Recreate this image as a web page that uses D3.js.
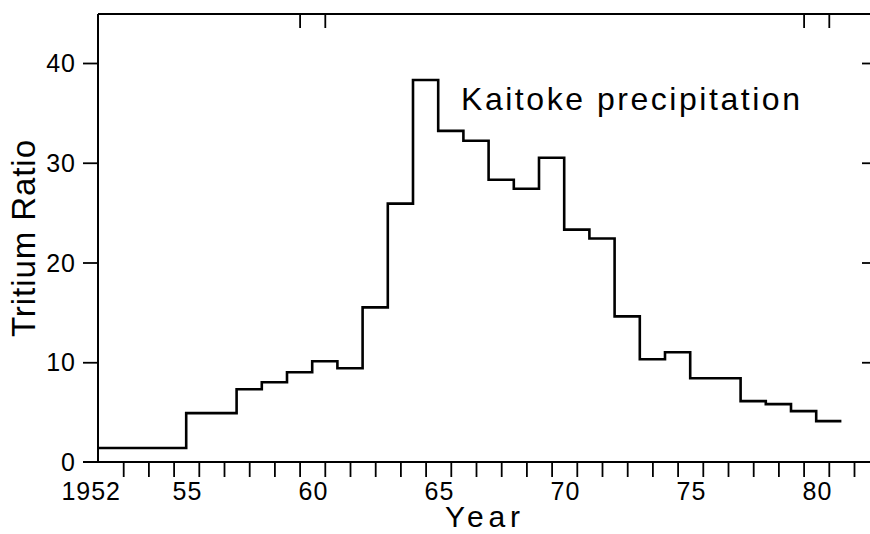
<!DOCTYPE html>
<html>
<head>
<meta charset="utf-8">
<script src="https://cdn.jsdelivr.net/npm/d3@7"></script>
<style>
  html, body { margin: 0; padding: 0; background: #fff; }
  svg { display: block; }
  text { font-family: "Liberation Sans", Arial, sans-serif; fill: #000; }
  text.num { font-family: "Liberation Sans Narrow", "Liberation Sans", Arial, sans-serif; }
</style>
</head>
<body>
<svg id="chart" width="870" height="534"></svg>
<script>
// ---- data ----
const stepEdges = [1952, 1955.5, 1957.5, 1958.5, 1959.5, 1960.5, 1961.5, 1962.5, 1963.5, 1964.5,
  1965.5, 1966.5, 1967.5, 1968.5, 1969.5, 1970.5, 1971.5, 1972.5, 1973.5, 1974.5,
  1975.5, 1977.5, 1978.5, 1979.5, 1980.5, 1981.5];
const tritiumRatio = [1.4, 4.9, 7.3, 8.0, 9.0, 10.1, 9.4, 15.5, 25.9, 38.3,
  33.2, 32.2, 28.3, 27.4, 30.5, 23.3, 22.4, 14.6, 10.3, 11.0,
  8.4, 6.1, 5.8, 5.1, 4.1];
const xTickYears = [1953, 1954, 1955, 1956, 1957, 1958, 1959, 1960, 1961, 1962, 1963, 1964, 1965,
  1966, 1967, 1968, 1969, 1970, 1971, 1972, 1973, 1974, 1975, 1976, 1977, 1978, 1979, 1980, 1981, 1982];
const xLabelYears = [1952, 1955, 1960, 1965, 1970, 1975, 1980];
const xLabels = ["1952", "55", "60", "65", "70", "75", "80"];
const topTickYears = [1960, 1961, 1980, 1981];
const yTickValues = [0, 10, 20, 30, 40];
const yTickLabels = ["0", "10", "20", "30", "40"];
const seriesLabel = "Kaitoke precipitation";
const xTitle = "Year";
const yTitle = "Tritium Ratio";

// ---- layout ----
const svg = d3.select("#chart");
const x = d3.scaleLinear().domain([1952, 1982]).range([98, 854]);
const y = d3.scaleLinear().domain([0, 40]).range([462, 63]);
const topY = 14, rightX = 870;

// frame lines
svg.append("line").attr("x1", 98).attr("x2", 98).attr("y1", topY).attr("y2", 462)
  .attr("stroke", "#000").attr("stroke-width", 2);
svg.append("line").attr("x1", 98).attr("x2", rightX).attr("y1", topY).attr("y2", topY)
  .attr("stroke", "#000").attr("stroke-width", 2);
svg.append("line").attr("x1", 83).attr("x2", rightX).attr("y1", 462).attr("y2", 462)
  .attr("stroke", "#000").attr("stroke-width", 2);

// bottom axis ticks
const xAxis = d3.axisBottom(x).tickValues(xTickYears).tickSize(15).tickFormat("");
const gx = svg.append("g").attr("transform", "translate(0,462)").call(xAxis);
gx.select(".domain").remove();
gx.selectAll(".tick line").attr("stroke", "#000").attr("stroke-width", 1.8);

// bottom labels
svg.append("g").selectAll("text").data(xLabelYears).join("text")
  .attr("class", "num")
  .attr("x", (d, i) => i === 0 ? x(d) + 23 : x(d) - 1)
  .attr("y", 500)
  .attr("text-anchor", (d, i) => i === 0 ? "end" : "start")
  .attr("font-size", 25)
  .attr("letter-spacing", 1)
  .text((d, i) => xLabels[i]);

// top ticks
const topAxis = d3.axisBottom(x).tickValues(topTickYears).tickSize(14).tickFormat("");
const gt = svg.append("g").attr("transform", `translate(0,${topY})`).call(topAxis);
gt.select(".domain").remove();
gt.selectAll(".tick line").attr("stroke", "#000").attr("stroke-width", 1.8);

// left axis
const yAxis = d3.axisLeft(y).tickValues(yTickValues.slice(1)).tickSize(15).tickFormat("");
const gy = svg.append("g").attr("transform", "translate(98,0)").call(yAxis);
gy.select(".domain").remove();
gy.selectAll(".tick line").attr("stroke", "#000").attr("stroke-width", 1.8);

svg.append("g").selectAll("text").data(yTickValues).join("text")
  .attr("class", "num")
  .attr("x", 76).attr("y", d => y(d) + 9)
  .attr("text-anchor", "end")
  .attr("font-size", 25)
  .attr("letter-spacing", 1)
  .text((d, i) => yTickLabels[i]);

// right ticks
const yAxisR = d3.axisLeft(y).tickValues(yTickValues.slice(1)).tickSize(8).tickFormat("");
const gr = svg.append("g").attr("transform", `translate(${rightX},0)`).call(yAxisR);
gr.select(".domain").remove();
gr.selectAll(".tick line").attr("stroke", "#000").attr("stroke-width", 1.8);

// step series
const pts = tritiumRatio.map((v, i) => [stepEdges[i], v]);
pts.push([stepEdges[stepEdges.length - 1], tritiumRatio[tritiumRatio.length - 1]]);
const line = d3.line().x(d => x(d[0])).y(d => y(d[1])).curve(d3.curveStepAfter);
svg.append("path").datum(pts).attr("d", line)
  .attr("fill", "none").attr("stroke", "#000").attr("stroke-width", 2.6)
  .attr("stroke-linejoin", "miter");

// annotation
svg.append("text").attr("x", 461).attr("y", 110)
  .attr("font-size", 32)
  .attr("textLength", 339).attr("lengthAdjust", "spacing")
  .text(seriesLabel);

// axis titles
svg.append("text").attr("x", 445).attr("y", 527)
  .attr("font-size", 30)
  .attr("textLength", 75).attr("lengthAdjust", "spacing")
  .text(xTitle);

svg.append("text")
  .attr("transform", "translate(35,337) rotate(-90)")
  .attr("font-size", 33)
  .attr("textLength", 197).attr("lengthAdjust", "spacing")
  .text(yTitle);
</script>
</body>
</html>
